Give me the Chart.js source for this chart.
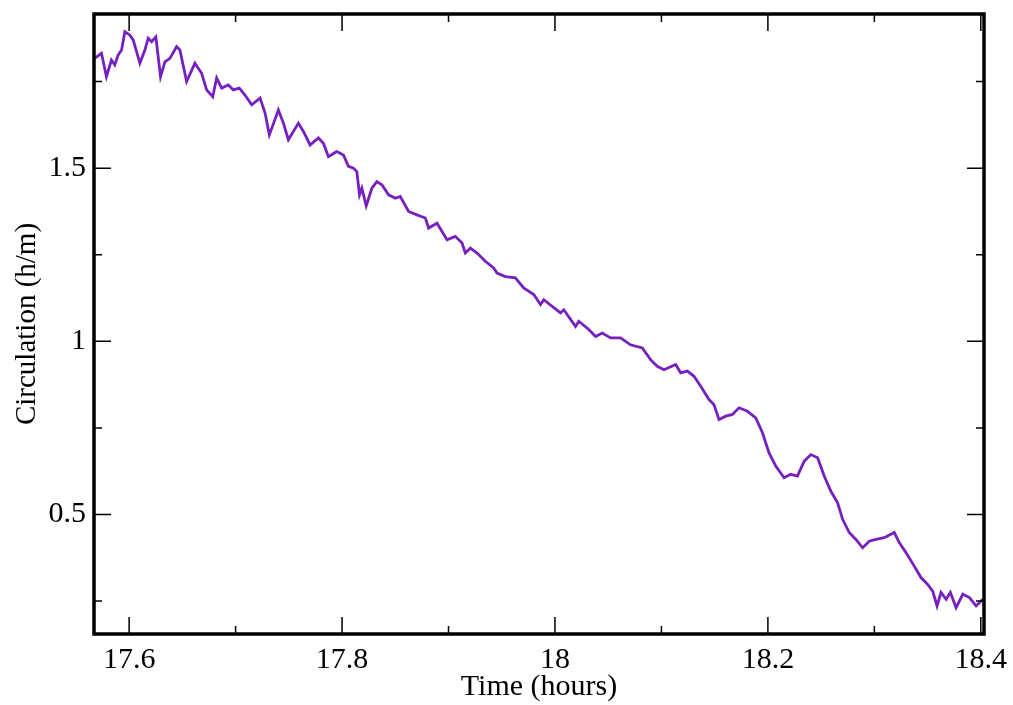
<!DOCTYPE html>
<html>
<head>
<meta charset="utf-8">
<title>Circulation vs time</title>
<script src="https://cdn.jsdelivr.net/npm/chart.js@4.4.1/dist/chart.umd.min.js"></script>
<style>
  html, body { margin: 0; padding: 0; background: #ffffff; }
  #wrap { width: 1013px; height: 705px; position: relative; }
</style>
</head>
<body>
<div id="wrap"><canvas id="chart"></canvas></div>
<script>
// Values
const timeHours = [
  17.5677, 17.574, 17.5787, 17.5834, 17.5865, 17.5897, 17.5929, 17.596, 17.6007, 17.6038,
  17.6101, 17.6148, 17.6179, 17.6211, 17.6251, 17.6295, 17.6336, 17.6383, 17.6446, 17.6477,
  17.654, 17.6618, 17.6681, 17.6728, 17.6785, 17.6822, 17.6869, 17.6931, 17.6978, 17.7035,
  17.7088, 17.7151, 17.723, 17.7277, 17.7317, 17.7402, 17.7449, 17.7496, 17.759, 17.7637,
  17.77, 17.7778, 17.7825, 17.7872, 17.7935, 17.7951, 17.8013, 17.806, 17.8107, 17.8139,
  17.8164, 17.8186, 17.8227, 17.828, 17.8327, 17.8374, 17.8437, 17.85, 17.8547, 17.8625,
  17.8704, 17.8782, 17.8813, 17.8892, 17.8986, 17.9064, 17.9127, 17.9158, 17.9205, 17.9268,
  17.9346, 17.9424, 17.9456, 17.9534, 17.9628, 17.9706, 17.9801, 17.9864, 17.9895, 17.9974,
  18.0052, 18.0083, 18.0193, 18.0224, 18.0318, 18.0381, 18.0444, 18.0522, 18.0616, 18.071,
  18.082, 18.0898, 18.0961, 18.1024, 18.1134, 18.1181, 18.1244, 18.1306, 18.1369, 18.1447,
  18.1494, 18.1541, 18.1604, 18.1667, 18.1729, 18.1808, 18.1886, 18.1949, 18.2011, 18.2074,
  18.2152, 18.2215, 18.2278, 18.2341, 18.2404, 18.2467, 18.2529, 18.2592, 18.2655, 18.2702,
  18.2764, 18.2827, 18.289, 18.2952, 18.3015, 18.3093, 18.3187, 18.3234, 18.3297, 18.3375,
  18.3438, 18.3501, 18.3548, 18.3589, 18.3626, 18.3674, 18.3714, 18.3768, 18.3831, 18.3893,
  18.3956, 18.4019
];
const circulation = [
  1.817, 1.832, 1.764, 1.812, 1.798, 1.827, 1.841, 1.894, 1.884, 1.870,
  1.803, 1.841, 1.875, 1.865, 1.879, 1.764, 1.807, 1.817, 1.851, 1.841,
  1.750, 1.803, 1.774, 1.726, 1.706, 1.760, 1.731, 1.740, 1.726, 1.731,
  1.711, 1.683, 1.702, 1.659, 1.596, 1.668, 1.630, 1.582, 1.630, 1.606,
  1.567, 1.587, 1.572, 1.533, 1.545, 1.548, 1.538, 1.505, 1.500, 1.490,
  1.423, 1.442, 1.391, 1.442, 1.461, 1.452, 1.423, 1.413, 1.418, 1.375,
  1.365, 1.356, 1.327, 1.341, 1.293, 1.303, 1.284, 1.255, 1.269, 1.255,
  1.231, 1.212, 1.197, 1.187, 1.183, 1.154, 1.135, 1.106, 1.120, 1.101,
  1.082, 1.091, 1.043, 1.058, 1.034, 1.014, 1.024, 1.010, 1.010, 0.990,
  0.981, 0.947, 0.928, 0.918, 0.933, 0.909, 0.914, 0.899, 0.870, 0.832,
  0.817, 0.774, 0.784, 0.789, 0.808, 0.798, 0.779, 0.736, 0.678, 0.640,
  0.606, 0.616, 0.611, 0.654, 0.673, 0.664, 0.611, 0.567, 0.534, 0.486,
  0.448, 0.428, 0.404, 0.423, 0.428, 0.433, 0.448, 0.419, 0.390, 0.351,
  0.318, 0.298, 0.279, 0.236, 0.275, 0.255, 0.275, 0.231, 0.270, 0.260,
  0.236, 0.255
];

const xMajorTicks = [17.6, 17.8, 18.0, 18.2, 18.4];
const xMinorTicks = [17.7, 17.9, 18.1, 18.3];
const yMajorTicks = [0.5, 1.0, 1.5];
const yMinorTicks = [0.25, 0.75, 1.25, 1.75];

const X_MIN = 17.567, X_MAX = 18.403;
const Y_MIN = 0.155, Y_MAX = 1.945;

const FONT = "'Liberation Serif', 'DejaVu Serif', serif";

const points = timeHours.map((t, i) => ({ x: t, y: circulation[i] }));

/**
 * Frame + inward tick marks on all four sides (xmgrace style)
 */
const frameTicks = {
  id: 'frameTicks',
  afterDraw(chart) {
    const { ctx, chartArea: a, scales } = chart;
    const xs = scales.x, ys = scales.y;
    ctx.save();
    ctx.strokeStyle = '#000';
    ctx.lineWidth = 1.5;
    const tick = (vals, len, isX) => {
      vals.forEach(v => {
        ctx.beginPath();
        if (isX) {
          const px = xs.getPixelForValue(v);
          ctx.moveTo(px, a.bottom); ctx.lineTo(px, a.bottom - len);
          ctx.moveTo(px, a.top); ctx.lineTo(px, a.top + len);
        } else {
          const py = ys.getPixelForValue(v);
          ctx.moveTo(a.left, py); ctx.lineTo(a.left + len, py);
          ctx.moveTo(a.right, py); ctx.lineTo(a.right - len, py);
        }
        ctx.stroke();
      });
    };
    tick(xMajorTicks, 17, true);
    tick(xMinorTicks, 8, true);
    tick(yMajorTicks, 17, false);
    tick(yMinorTicks, 8, false);

    // Frame
    ctx.lineWidth = 3.5;
    ctx.strokeRect(a.left, a.top, a.right - a.left, a.bottom - a.top);
    ctx.restore();
  }
};

new Chart(document.getElementById('chart'), {
  type: 'line',
  data: {
    datasets: [{
      label: 'Circulation',
      data: points,
      borderColor: '#7620c0',
      borderWidth: 2.8,
      pointRadius: 0,
      tension: 0,
      fill: false
    }]
  },
  options: {
    responsive: true,
    maintainAspectRatio: false,
    animation: false,
    layout: { padding: { left: 10, top: 14, right: 29, bottom: 0 } },
    plugins: {
      legend: { display: false },
      tooltip: { enabled: false }
    },
    scales: {
      x: {
        type: 'linear',
        min: X_MIN,
        max: X_MAX,
        afterBuildTicks: (scale) => {
          scale.ticks = xMajorTicks.map(v => ({ value: v }));
        },
        afterFit: (scale) => {
          scale.height = 71;
          scale.paddingLeft = 0;
          scale.paddingRight = 0;
        },
        grid: { display: false, drawTicks: false },
        border: { display: false },
        ticks: {
          color: '#000',
          padding: 8,
          maxRotation: 0,
          autoSkip: false,
          font: { family: FONT, size: 30 },
          callback: (v) => String(Math.round(v * 10) / 10)
        },
        title: {
          display: true,
          text: 'Time (hours)',
          color: '#000',
          padding: { top: -3, bottom: 0 },
          font: { family: FONT, size: 30 }
        }
      },
      y: {
        type: 'linear',
        min: Y_MIN,
        max: Y_MAX,
        afterBuildTicks: (scale) => {
          scale.ticks = yMajorTicks.map(v => ({ value: v }));
        },
        afterFit: (scale) => {
          scale.width = 84;
          scale.paddingTop = 0;
          scale.paddingBottom = 0;
        },
        grid: { display: false, drawTicks: false },
        border: { display: false },
        ticks: {
          color: '#000',
          padding: 8,
          autoSkip: false,
          font: { family: FONT, size: 30 },
          callback: (v) => String(Math.round(v * 10) / 10)
        },
        title: {
          display: true,
          text: 'Circulation (h/m)',
          color: '#000',
          padding: { top: 0, bottom: 0 },
          font: { family: FONT, size: 29 }
        }
      }
    }
  },
  plugins: [frameTicks]
});
</script>
</body>
</html>
